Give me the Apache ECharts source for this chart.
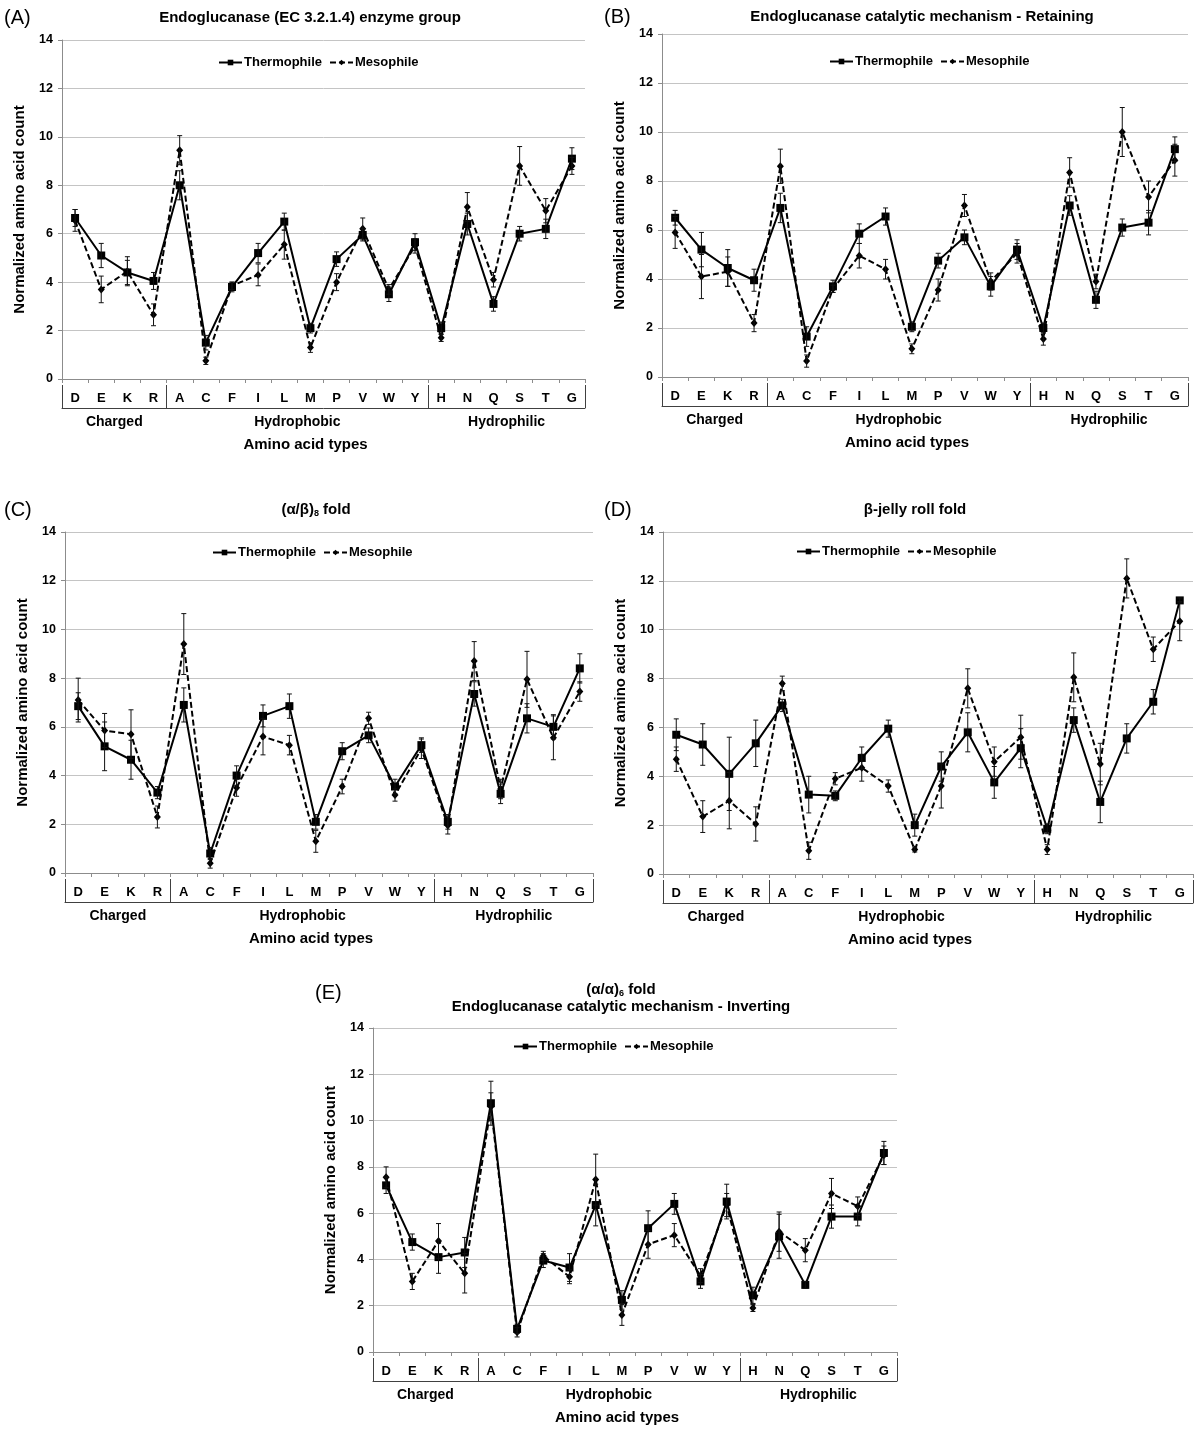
<!DOCTYPE html>
<html><head><meta charset="utf-8">
<script src="https://cdn.jsdelivr.net/npm/echarts@6/dist/echarts.min.js"></script>
<style>html,body{margin:0;padding:0;background:#fff}#c{width:1200px;height:1433px}</style>
</head><body><div id="c"></div>
<script>
// ---------- DATA ----------
const categories = ['D','E','K','R','A','C','F','I','L','M','P','V','W','Y','H','N','Q','S','T','G'];
const groupNames = ['Charged','Hydrophobic','Hydrophilic'];
const groupBounds = [0,4,14,20];
const seriesNames = ['Thermophile','Mesophile'];
const yMin = 0, yMax = 14, yInterval = 2;

const titleA = 'Endoglucanase (EC 3.2.1.4) enzyme group';
const titleB = 'Endoglucanase catalytic mechanism - Retaining';
const titleC = '(α/β){sub|8} fold';
const titleD = 'β-jelly roll fold';
const titleE1 = '(α/α){sub|6} fold';
const titleE2 = 'Endoglucanase catalytic mechanism - Inverting';

const thermoA    = [6.65,5.1,4.4,4.05,8.0,1.5,3.8,5.2,6.5,2.1,4.95,5.95,3.5,5.65,2.1,6.4,3.1,6.0,6.2,9.1];
const thermoErrA = [0.35,0.5,0.5,0.35,0.6,0.3,0.2,0.4,0.35,0.2,0.3,0.25,0.3,0.35,0.25,0.45,0.3,0.3,0.4,0.45];
const mesoA      = [6.55,3.7,4.45,2.65,9.45,0.75,3.85,4.3,5.55,1.3,4.0,6.2,3.7,5.5,1.7,7.1,4.1,8.8,6.95,8.8];
const mesoErrA   = [0.45,0.55,0.6,0.45,0.6,0.15,0.15,0.45,0.6,0.2,0.35,0.45,0.2,0.3,0.15,0.6,0.3,0.8,0.5,0.35];

const thermoB    = [6.5,5.2,4.45,3.95,6.9,1.65,3.7,5.85,6.55,2.05,4.75,5.7,3.7,5.2,2.0,7.0,3.15,6.1,6.3,9.3];
const thermoErrB = [0.3,0.7,0.75,0.45,0.6,0.4,0.25,0.4,0.35,0.2,0.3,0.3,0.4,0.4,0.2,0.4,0.35,0.35,0.5,0.5];
const mesoB      = [5.9,4.1,4.3,2.2,8.6,0.65,3.6,4.95,4.4,1.15,3.55,7.0,3.9,5.05,1.55,8.35,3.9,10.0,7.35,8.85];
const mesoErrB   = [0.65,0.9,0.6,0.35,0.7,0.25,0.15,0.5,0.4,0.2,0.45,0.45,0.35,0.4,0.25,0.6,0.3,1.0,0.65,0.65];

const thermoC    = [6.85,5.2,4.65,3.3,6.9,0.8,4.0,6.45,6.85,2.1,5.0,5.65,3.55,5.25,2.1,7.35,3.25,6.35,6.0,8.4];
const thermoErrC = [0.55,1.0,0.8,0.25,0.7,0.25,0.4,0.45,0.5,0.3,0.35,0.3,0.3,0.3,0.3,0.5,0.4,0.6,0.5,0.6];
const mesoC      = [7.1,5.85,5.7,2.3,9.4,0.4,3.5,5.6,5.25,1.3,3.55,6.35,3.2,5.1,1.95,8.7,3.45,7.95,5.55,7.45];
const mesoErrC   = [0.9,0.7,1.0,0.45,1.25,0.2,0.35,0.75,0.4,0.45,0.3,0.25,0.25,0.4,0.35,0.8,0.4,1.15,0.9,0.4];

const thermoD    = [5.7,5.3,4.1,5.35,6.9,3.25,3.2,4.75,5.95,2.0,4.4,5.8,3.75,5.15,1.85,6.3,2.95,5.55,7.05,11.2];
const thermoErrD = [0.65,0.85,1.5,0.95,0.25,0.75,0.2,0.45,0.35,0.45,0.6,0.8,0.65,0.8,0.2,0.5,0.85,0.6,0.5,0.1];
const mesoD      = [4.7,2.35,3.0,2.05,7.8,0.95,3.9,4.35,3.6,1.0,3.6,7.6,4.6,5.6,1.0,8.05,4.5,12.1,9.2,10.35];
const mesoErrD   = [0.5,0.65,1.15,0.7,0.3,0.35,0.25,0.55,0.25,0.1,0.9,0.8,0.6,0.9,0.2,1.0,0.85,0.8,0.5,0.8];

const thermoE    = [7.2,4.75,4.1,4.3,10.75,1.0,3.95,3.65,6.35,2.25,5.35,6.4,3.05,6.5,2.45,5.0,2.9,5.85,5.85,8.6];
const thermoErrE = [0.35,0.35,0.7,0.65,0.95,0.2,0.3,0.6,0.9,0.4,0.75,0.45,0.3,0.75,0.35,0.95,0.15,0.5,0.4,0.5];
const mesoE      = [7.55,3.05,4.8,3.4,10.6,0.85,4.15,3.25,7.45,1.6,4.65,5.05,3.3,6.35,1.9,5.2,4.4,6.85,6.3,8.5];
const mesoErrE   = [0.45,0.35,0.75,0.85,0.6,0.2,0.2,0.3,1.1,0.45,0.6,0.5,0.3,0.5,0.15,0.85,0.5,0.65,0.4,0.4];

// ---------- LAYOUT ----------
const FONT = '"Liberation Sans", Arial, Helvetica, sans-serif';
const panels = [
  {tag:'(A)', titles:[titleA], thermo:thermoA, thermoErr:thermoErrA, meso:mesoA, mesoErr:mesoErrA,
   grid:{left:62, top:40, width:523, height:339}, titleX:310, titleY:[18], tagX:4, tagY:18, legend:{left:218, top:56}},
  {tag:'(B)', titles:[titleB], thermo:thermoB, thermoErr:thermoErrB, meso:mesoB, mesoErr:mesoErrB,
   grid:{left:662, top:34, width:526, height:343}, titleX:922, titleY:[17], tagX:604, tagY:17, legend:{left:829, top:55}},
  {tag:'(C)', titles:[titleC], thermo:thermoC, thermoErr:thermoErrC, meso:mesoC, mesoErr:mesoErrC,
   grid:{left:65, top:532, width:528, height:341}, titleX:316, titleY:[510], tagX:4, tagY:510, legend:{left:212, top:546}},
  {tag:'(D)', titles:[titleD], thermo:thermoD, thermoErr:thermoErrD, meso:mesoD, mesoErr:mesoErrD,
   grid:{left:663, top:532, width:530, height:342}, titleX:915, titleY:[510], tagX:604, tagY:510, legend:{left:796, top:545}},
  {tag:'(E)', titles:[titleE1, titleE2], thermo:thermoE, thermoErr:thermoErrE, meso:mesoE, mesoErr:mesoErrE,
   grid:{left:373, top:1028, width:524, height:324}, titleX:621, titleY:[990,1007], tagX:315, tagY:993, legend:{left:513, top:1040}}
];

const groupCenters = groupNames.map((n,i)=> (groupBounds[i]+groupBounds[i+1])/2);

function errRender(params, api){
  const x = api.value(0);
  const lo = api.coord([x, api.value(1)]);
  const hi = api.coord([x, api.value(2)]);
  const c = 2.5;
  const st = {stroke:'#111', lineWidth:1};
  return {type:'group', children:[
    {type:'line', shape:{x1:lo[0],y1:lo[1],x2:hi[0],y2:hi[1]}, style:st},
    {type:'line', shape:{x1:lo[0]-c,y1:lo[1],x2:lo[0]+c,y2:lo[1]}, style:st},
    {type:'line', shape:{x1:hi[0]-c,y1:hi[1],x2:hi[0]+c,y2:hi[1]}, style:st}
  ]};
}

const option = {
  animation:false,
  backgroundColor:'#fff',
  textStyle:{fontFamily:FONT},
  grid:[], xAxis:[], yAxis:[], series:[], legend:[], graphic:[]
};

panels.forEach((p,k)=>{
  option.grid.push(Object.assign({containLabel:false}, p.grid));
  option.xAxis.push({
    type:'category', gridIndex:k, data:categories, boundaryGap:true,
    axisLine:{show:true, onZero:false, lineStyle:{color:'#8c8c8c', width:1}},
    axisTick:{show:true, alignWithLabel:false, length:4, lineStyle:{color:'#8c8c8c'}},
    axisLabel:{color:'#000', fontWeight:'bold', fontSize:13, margin:13, fontFamily:FONT, interval:0},
    splitLine:{show:false}
  });
  option.xAxis.push({
    type:'value', gridIndex:k, min:0, max:categories.length, position:'bottom', offset:29,
    axisLine:{show:true, onZero:false, lineStyle:{color:'#404040', width:1}},
    axisTick:{show:true, inside:true, length:23, customValues:groupBounds, lineStyle:{color:'#404040', width:1}},
    axisLabel:{show:true, customValues:groupCenters, margin:7, color:'#000', fontWeight:'bold', fontSize:14, fontFamily:FONT,
      formatter:(v)=>{ const i = groupCenters.indexOf(v); return i>=0 ? groupNames[i] : ''; }},
    splitLine:{show:false},
    name:'Amino acid types', nameLocation:'middle', nameGap:29,
    nameTextStyle:{color:'#000', fontWeight:'bold', fontSize:15, fontFamily:FONT, padding:[0,36,0,0]}
  });
  option.yAxis.push({
    type:'value', gridIndex:k, min:yMin, max:yMax, interval:yInterval,
    axisLine:{show:true, lineStyle:{color:'#8c8c8c'}},
    axisTick:{show:true, length:4, lineStyle:{color:'#8c8c8c'}},
    axisLabel:{color:'#000', fontWeight:'bold', fontSize:12.5, margin:9, fontFamily:FONT},
    splitLine:{show:true, lineStyle:{color:'#c4c4c4', width:1}},
    name:'Normalized amino acid count', nameLocation:'middle', nameGap:35, nameRotate:90,
    nameTextStyle:{color:'#000', fontWeight:'bold', fontSize:15, fontFamily:FONT}
  });
  const xi = 2*k;
  option.series.push({
    name:seriesNames[0], type:'line', xAxisIndex:xi, yAxisIndex:k, data:p.thermo,
    symbol:'rect', symbolSize:8, lineStyle:{color:'#000', width:2, type:'solid'},
    itemStyle:{color:'#000'}, z:3
  });
  option.series.push({
    name:seriesNames[1], type:'line', xAxisIndex:xi, yAxisIndex:k, data:p.meso,
    symbol:'diamond', symbolSize:[7,8], lineStyle:{color:'#000', width:2, type:[6,3]},
    itemStyle:{color:'#000'}, z:3
  });
  [[p.thermo,p.thermoErr],[p.meso,p.mesoErr]].forEach(([v,e])=>{
    option.series.push({
      type:'custom', xAxisIndex:xi, yAxisIndex:k, renderItem:errRender, z:4, silent:true,
      encode:{x:0, y:[1,2]},
      data:v.map((val,i)=>[i, val-e[i], val+e[i]])
    });
  });
  option.legend.push({
    data:seriesNames, left:p.legend.left, top:p.legend.top, orient:'horizontal', padding:0,
    itemWidth:23, itemHeight:7, itemGap:7,
    textStyle:{color:'#000', fontWeight:'bold', fontSize:13, fontFamily:FONT, padding:[0,0,0,-3]}
  });
  // titles & tags
  p.titles.forEach((t,j)=>{
    option.graphic.push({type:'text', x:p.titleX, y:p.titleY[j], silent:true, style:{
      text:t, font:'bold 15px '+FONT, fill:'#000', align:'center', verticalAlign:'middle',
      textAlign:'center', textVerticalAlign:'middle',
      rich:{sub:{fontSize:9, fontWeight:'bold', fontFamily:FONT, padding:[7,0,0,0], fill:'#000'}}
    }});
  });
  option.graphic.push({type:'text', x:p.tagX, y:p.tagY, silent:true, style:{
    text:p.tag, font:'20px '+FONT, fill:'#000', align:'left', verticalAlign:'middle',
    textAlign:'left', textVerticalAlign:'middle'
  }});
});

const chart = echarts.init(document.getElementById('c'), null, {renderer:'canvas'});
chart.setOption(option);
</script></body></html>
